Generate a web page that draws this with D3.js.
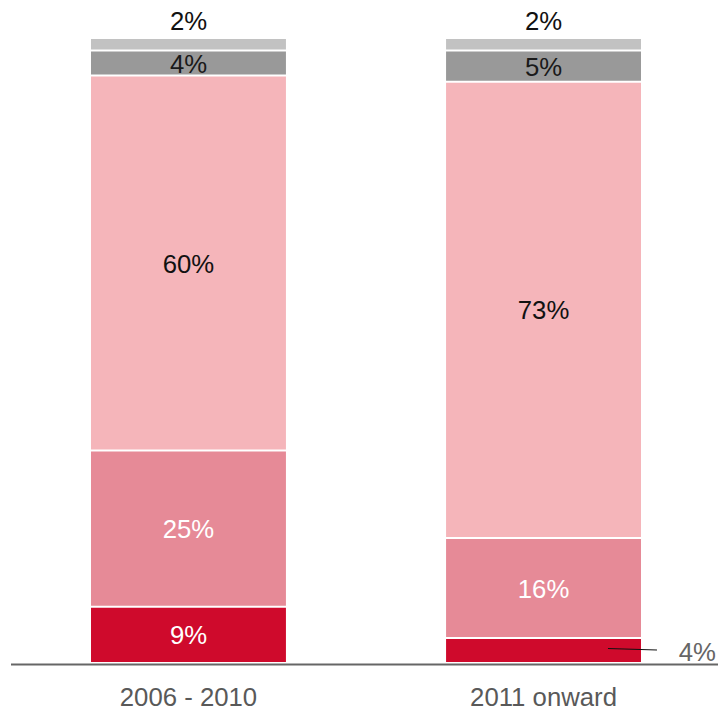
<!DOCTYPE html>
<html>
<head>
<meta charset="utf-8">
<script src="https://cdn.jsdelivr.net/npm/d3@7"></script>
<style>
  html, body { margin: 0; padding: 0; background: #fff; }
  svg { display: block; font-family: "Liberation Sans", Arial, sans-serif; }
</style>
</head>
<body>
<svg id="chart" width="718" height="710"></svg>
<script>
// Periods along the x axis
const periods = ["2006 - 2010", "2011 onward"];
// Stack order, bottom to top
const segments = ["s1", "s2", "s3", "s4", "s5"];
// Percent shares per period, bottom to top
const share2006 = [9, 25, 60, 4, 2];
const share2011 = [4, 16, 73, 5, 2];
const segmentColors = ["#CF0A2C", "#E68A97", "#F5B5BA", "#999999", "#C2C2C2"];
const labelColors = ["#ffffff", "#ffffff", "#111111", "#1a1a1a", "#111111"];

const rows = periods.map((p, i) => {
  const vals = i === 0 ? share2006 : share2011;
  const r = { period: p };
  segments.forEach((s, j) => r[s] = vals[j]);
  return r;
});

const svg = d3.select("#chart");
const baseY = 663;
const fontSize = 25;
const wide = 1.03; // slightly widened lettering

const x = d3.scaleBand().domain(periods).range([20, 712]).paddingInner(0.451).paddingOuter(0.2);
const y = d3.scaleLinear().domain([0, 100]).range([baseY, 38]);

const series = d3.stack().keys(segments)(rows);

const groups = svg.append("g").selectAll("g")
  .data(series)
  .join("g")
  .attr("fill", (d, i) => segmentColors[i]);

// bar segments with thin white separators
groups.selectAll("rect")
  .data(d => d)
  .join("rect")
  .attr("x", d => x(d.data.period))
  .attr("width", x.bandwidth())
  .attr("y", d => y(d[1]) + 1)
  .attr("height", d => Math.max(0, y(d[0]) - y(d[1]) - 2));

function label(tx, ty, anchor, fill, txt) {
  svg.append("text")
    .attr("transform", `translate(${tx},${ty}) scale(${wide},1)`)
    .attr("text-anchor", anchor)
    .attr("font-size", fontSize)
    .attr("fill", fill)
    .text(txt);
}

// value labels
series.forEach((s, si) => {
  s.forEach(d => {
    const v = d[1] - d[0];
    const cx = x(d.data.period) + x.bandwidth() / 2;
    const top = y(d[1]), bot = y(d[0]);
    if (si === 4) {
      label(cx, top - 8, "middle", "#111", v + "%");
    } else if (si === 0 && v < 6) {
      // small bottom segment: callout to the right
      const ly = (top + bot) / 2 - 2;
      const right = x(d.data.period) + x.bandwidth();
      svg.append("line")
        .attr("x1", right - 33).attr("y1", ly)
        .attr("x2", right + 16).attr("y2", ly + 1.5)
        .attr("stroke", "#111").attr("stroke-width", 1.2);
      label(716, ly + 12, "end", "#666", v + "%");
    } else {
      label(cx, (top + bot) / 2 + 9.5, "middle", labelColors[si], v + "%");
    }
  });
});

// baseline
svg.append("line")
  .attr("x1", 11).attr("x2", 718)
  .attr("y1", baseY + 1.5).attr("y2", baseY + 1.5)
  .attr("stroke", "#666").attr("stroke-width", 2);

// period labels
const axis = d3.axisBottom(x).tickSize(0).tickPadding(0);
const ag = svg.append("g").attr("transform", `translate(0,${baseY})`).call(axis);
ag.select(".domain").remove();
ag.selectAll("text")
  .attr("dy", 0).attr("y", 43)
  .attr("transform", `scale(${wide},1)`)
  .attr("font-size", fontSize)
  .attr("font-family", "Liberation Sans, Arial, sans-serif")
  .attr("fill", "#595959");
</script>
</body>
</html>
